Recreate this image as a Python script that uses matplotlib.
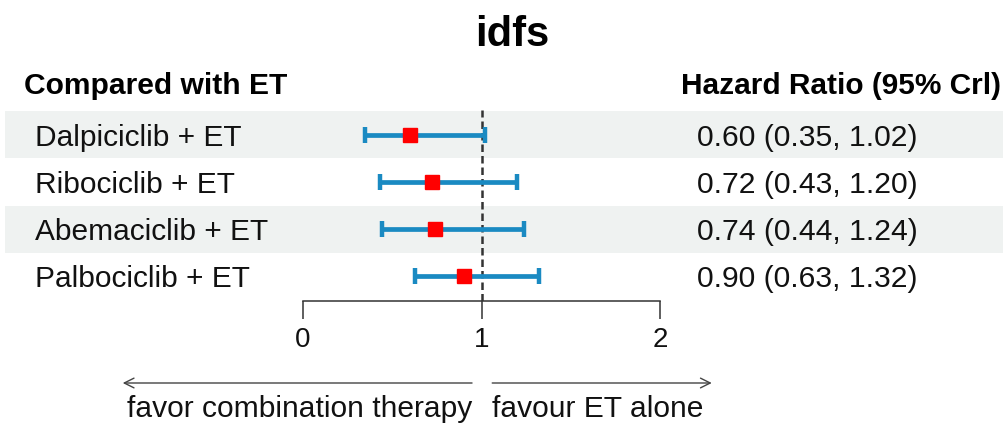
import numpy as np
import matplotlib
matplotlib.use("Agg")
import matplotlib.pyplot as plt
from matplotlib.transforms import blended_transform_factory
from matplotlib.patches import Rectangle

plt.rcParams['font.family'] = ['Liberation Sans', 'DejaVu Sans']

treatments = ['Dalpiciclib + ET', 'Ribociclib + ET', 'Abemaciclib + ET', 'Palbociclib + ET']
hr = np.array([0.60, 0.72, 0.74, 0.90])
lower = np.array([0.35, 0.43, 0.44, 0.63])
upper = np.array([1.02, 1.20, 1.24, 1.32])
xticks = [0, 1, 2]

W, H = 1004, 424
fig = plt.figure(figsize=(W / 100, H / 100), dpi=100)

# forest axes, x from 0 to 2
ax = fig.add_axes([303 / W, (H - 301) / H, 357 / W, 191 / H])
y = np.arange(len(treatments))
ax.set_xlim(0, 2)
ax.set_ylim(len(treatments) - 0.47, -0.53)

trans = blended_transform_factory(fig.transFigure, ax.transData)

# alternating row shading
for i in range(len(treatments)):
    if i % 2 == 0:
        ax.add_patch(Rectangle((5 / W, i - 0.5), 1 - 5 / W, 1.0, transform=trans,
                               facecolor='#eff2f1', edgecolor='none',
                               clip_on=False, zorder=0))

ax.axvline(1, color='#333333', lw=1.8, linestyle=(0, (3, 1.6)), zorder=1)

ax.errorbar(hr, y, xerr=[hr - lower, upper - hr], fmt='none',
            ecolor='#1a8ac2', elinewidth=3.4, capsize=5.5, capthick=3.2, zorder=2)
ax.plot(hr, y, linestyle='none', marker='s', markersize=10.5,
        color='#ff0000', zorder=3)

for sp in ['top', 'left', 'right']:
    ax.spines[sp].set_visible(False)
ax.spines['bottom'].set_bounds(0, 2)
ax.spines['bottom'].set_color('#333333')
ax.spines['bottom'].set_linewidth(1.1)
ax.set_xticks(xticks)
ax.set_xticklabels([str(t) for t in xticks])
ax.tick_params(axis='x', direction='out', length=13, width=1.1, color='#333333',
               labelsize=20, pad=6, labelcolor='#111111')
ax.set_yticks([])
ax.patch.set_alpha(0)

# row labels and values
for i, (name, h, lo, hi) in enumerate(zip(treatments, hr, lower, upper)):
    ax.text(35 / W, i + 0.23, name, transform=trans, ha='left', va='baseline',
            fontsize=21.5, color='#111111')
    ax.text(697 / W, i + 0.23, f'{h:.2f} ({lo:.2f}, {hi:.2f})', transform=trans,
            ha='left', va='baseline', fontsize=21.7, color='#111111')

# headers and title
fig.text(24 / W, (H - 94) / H, 'Compared with ET', ha='left', va='baseline',
         fontsize=21.6, fontweight='bold')
fig.text(681 / W, (H - 94) / H, 'Hazard Ratio (95% Crl)', ha='left', va='baseline',
         fontsize=21.5, fontweight='bold')
fig.text(512 / W, (H - 46) / H, 'idfs', ha='center', va='baseline',
         fontsize=30, fontweight='bold')

# direction arrows
arrow_y = (H - 383) / H
ax.annotate('', xy=(-1.01, arrow_y), xytext=(0.947, arrow_y),
            xycoords=('data', 'figure fraction'), textcoords=('data', 'figure fraction'),
            arrowprops=dict(arrowstyle='->,head_length=0.7,head_width=0.35',
                            color='#444444', lw=1.0, shrinkA=0, shrinkB=0),
            annotation_clip=False)
ax.annotate('', xy=(2.29, arrow_y), xytext=(1.06, arrow_y),
            xycoords=('data', 'figure fraction'), textcoords=('data', 'figure fraction'),
            arrowprops=dict(arrowstyle='->,head_length=0.7,head_width=0.35',
                            color='#444444', lw=1.0, shrinkA=0, shrinkB=0),
            annotation_clip=False)
text_y = (H - 417) / H
ax.annotate('favor combination therapy', xy=(0.947, text_y),
            xycoords=('data', 'figure fraction'), ha='right', va='baseline',
            fontsize=21.6, color='#111111', annotation_clip=False)
ax.annotate('favour ET alone', xy=(1.06, text_y),
            xycoords=('data', 'figure fraction'), ha='left', va='baseline',
            fontsize=21.6, color='#111111', annotation_clip=False)

fig.savefig('out.png', dpi=100)
